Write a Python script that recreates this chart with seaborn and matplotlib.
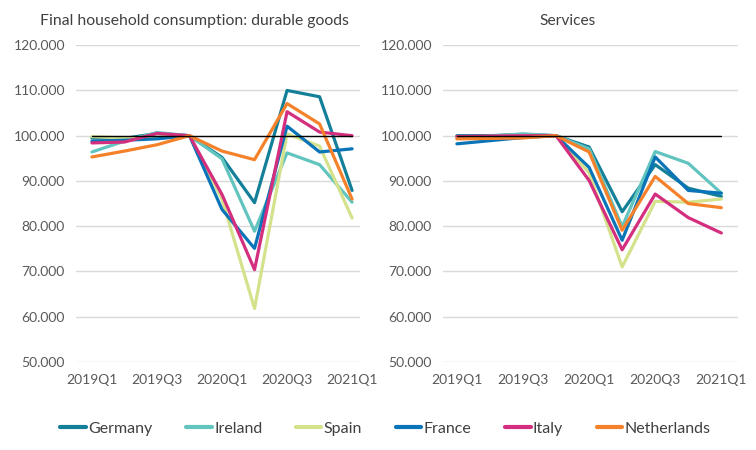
import matplotlib
matplotlib.use("Agg")
import matplotlib.pyplot as plt
import seaborn as sns
import pandas as pd

# --- data (index, 2019Q4 = 100) ---
quarters = ["2019Q1", "2019Q2", "2019Q3", "2019Q4", "2020Q1",
            "2020Q2", "2020Q3", "2020Q4", "2021Q1"]
countries = ["Germany", "Ireland", "Spain", "France", "Italy", "Netherlands"]

durable_germany = [99.5, 99.4, 100.5, 100.0, 95.2, 85.2, 110.0, 108.6, 87.9]
durable_ireland = [96.4, 98.8, 100.7, 100.0, 94.9, 78.9, 96.2, 93.6, 85.3]
durable_spain = [99.8, 99.5, 99.7, 100.0, 86.0, 61.8, 100.4, 97.7, 81.8]
durable_france = [98.8, 99.0, 99.3, 100.0, 83.7, 75.1, 102.1, 96.4, 97.1]
durable_italy = [98.4, 98.6, 100.5, 100.0, 87.0, 70.4, 105.3, 100.8, 100.0]
durable_netherlands = [95.3, 96.6, 98.0, 100.0, 96.6, 94.7, 107.1, 102.6, 86.0]

services_germany = [100.0, 100.0, 100.3, 100.0, 97.5, 83.2, 93.6, 88.4, 86.6]
services_ireland = [99.5, 99.9, 100.4, 100.0, 97.1, 79.9, 96.5, 93.9, 87.3]
services_spain = [99.5, 99.7, 100.0, 100.0, 91.8, 71.0, 85.5, 85.3, 86.0]
services_france = [98.2, 98.9, 99.6, 100.0, 93.0, 76.9, 95.3, 87.9, 87.3]
services_italy = [99.8, 99.9, 100.0, 100.0, 90.1, 74.8, 87.1, 81.9, 78.5]
services_netherlands = [99.3, 99.4, 99.5, 100.0, 96.4, 79.1, 91.0, 85.0, 84.1]

titles = ["Final household consumption: durable goods", "Services"]
tick_labels = ["2019Q1", "2019Q3", "2020Q1", "2020Q3", "2021Q1"]

palette = {
    "Germany": "#137f98",
    "Ireland": "#62c4be",
    "Spain": "#d5e28c",
    "France": "#0a74b8",
    "Italy": "#d42f7e",
    "Netherlands": "#f5822a",
}


def to_long(series):
    rows = []
    for country, vals in zip(countries, series):
        for i, v in enumerate(vals):
            rows.append({"idx": i, "quarter": quarters[i], "country": country, "value": v})
    return pd.DataFrame(rows)


df_durable = to_long([durable_germany, durable_ireland, durable_spain,
                      durable_france, durable_italy, durable_netherlands])
df_services = to_long([services_germany, services_ireland, services_spain,
                       services_france, services_italy, services_netherlands])

sns.set_theme(style="white")
plt.rcParams["font.family"] = ["Lato", "DejaVu Sans"]

fig = plt.figure(figsize=(7.56, 4.5), dpi=100)
ax1 = fig.add_axes([0.1005, 0.1956, 0.376, 0.704])
ax2 = fig.add_axes([0.586, 0.1956, 0.39, 0.704])

for ax, df, title, xlim in [(ax1, df_durable, titles[0], (-0.49, 8.25)),
                            (ax2, df_services, titles[1], (-0.42, 8.5))]:
    ax.set_ylim(50, 120)
    ax.set_yticks(range(50, 121, 10))
    ax.yaxis.grid(True, color="#d9d9d9", linewidth=1)
    ax.set_axisbelow(True)
    sns.lineplot(data=df, x="idx", y="value", hue="country", hue_order=countries,
                 palette=palette, linewidth=2.3, ax=ax, legend=False)
    ax.plot([0, len(quarters) - 1], [100, 100], color="black", linewidth=1, zorder=5)
    ax.set_xlim(*xlim)
    ax.set_xticks(range(0, len(quarters), 2))
    ax.set_xticklabels(tick_labels)
    ax.set_yticklabels([f"{v:.3f}" for v in range(50, 121, 10)])
    ax.tick_params(axis="both", length=0, labelsize=10, labelcolor="#595959")
    ax.tick_params(axis="y", pad=8)
    ax.tick_params(axis="x", pad=9)
    ax.set_xlabel("")
    ax.set_ylabel("")
    for s in ax.spines.values():
        s.set_visible(False)

fig.text(0.257, 0.954, titles[0], fontsize=11.3, color="#404040", va="center", ha="center")
fig.text(0.751, 0.954, titles[1], fontsize=11.2, color="#404040", va="center", ha="center")

handles = [plt.Line2D([], [], color=palette[c], linewidth=3) for c in countries]
fig.legend(handles, countries, loc="center", bbox_to_anchor=(0.51, 0.047), ncol=6,
           frameon=False, fontsize=11.5, handlelength=1.6, handletextpad=0.15,
           columnspacing=2.1, labelcolor="#404040")

fig.savefig("out.png", dpi=100)
